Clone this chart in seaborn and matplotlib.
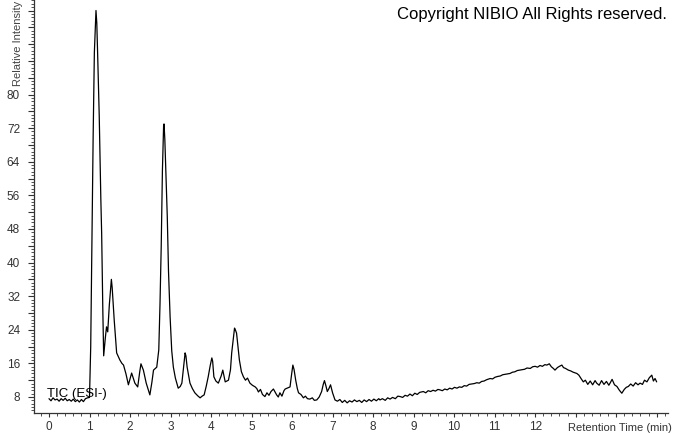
import numpy as np
import pandas as pd
import matplotlib
matplotlib.use("Agg")
import matplotlib.pyplot as plt
import seaborn as sns
from matplotlib.ticker import MultipleLocator, FixedLocator, FixedFormatter

# ---- data (retention time in min, relative intensity) ----
times = [
    0.00, 0.05, 0.10, 0.15, 0.20, 0.25, 0.30, 0.35, 0.40, 0.45, 0.50, 0.55, 0.60, 0.65,
    0.70, 0.75, 0.80, 0.85, 0.90, 0.95, 1.00, 1.03, 1.06, 1.09, 1.12, 1.15, 1.16, 1.18,
    1.20, 1.24, 1.28, 1.30, 1.33, 1.35, 1.39, 1.42, 1.45, 1.49, 1.54, 1.56, 1.61, 1.67,
    1.75, 1.80, 1.84, 1.90, 1.96, 2.04, 2.08, 2.12, 2.19, 2.24, 2.27, 2.33, 2.40, 2.49,
    2.54, 2.58, 2.66, 2.71, 2.74, 2.77, 2.80, 2.83, 2.84, 2.86, 2.89, 2.92, 2.95, 2.99,
    3.03, 3.07, 3.12, 3.19, 3.24, 3.28, 3.32, 3.36, 3.38, 3.41, 3.48, 3.54, 3.60, 3.67,
    3.73, 3.78, 3.83, 3.88, 3.93, 3.98, 4.02, 4.04, 4.07, 4.12, 4.18, 4.25, 4.29, 4.35,
    4.43, 4.48, 4.51, 4.55, 4.58, 4.60, 4.63, 4.67, 4.70, 4.75, 4.80, 4.85, 4.90, 4.96,
    5.02, 5.09, 5.13, 5.17, 5.22, 5.27, 5.33, 5.38, 5.43, 5.48, 5.54, 5.58, 5.62, 5.66,
    5.70, 5.75, 5.80, 5.83, 5.90, 5.95, 5.99, 6.02, 6.05, 6.09, 6.13, 6.16, 6.22, 6.28,
    6.33, 6.38, 6.44, 6.50, 6.55, 6.61, 6.67, 6.73, 6.77, 6.80, 6.84, 6.87, 6.91, 6.95,
    7.00, 7.06, 7.12, 7.18, 7.24, 7.30, 7.36, 7.42, 7.48, 7.54, 7.60, 7.66, 7.72, 7.78,
    7.84, 7.90, 7.96, 8.02, 8.08, 8.14, 8.17, 8.23, 8.30, 8.36, 8.42, 8.48, 8.55, 8.61,
    8.67, 8.73, 8.79, 8.85, 8.91, 8.97, 9.03, 9.09, 9.15, 9.24, 9.30, 9.36, 9.42, 9.48,
    9.54, 9.60, 9.65, 9.71, 9.77, 9.83, 9.89, 9.95, 10.01, 10.07, 10.13, 10.19, 10.25,
    10.31, 10.37, 10.43, 10.50, 10.56, 10.62, 10.68, 10.74, 10.80, 10.89, 10.95, 11.01,
    11.08, 11.14, 11.20, 11.26, 11.32, 11.38, 11.44, 11.50, 11.56, 11.62, 11.68, 11.74,
    11.80, 11.88, 11.94, 12.00, 12.06, 12.12, 12.18, 12.24, 12.29, 12.35, 12.40, 12.45,
    12.49, 12.55, 12.60, 12.66, 12.70, 12.75, 12.82, 12.88, 12.94, 13.03, 13.08, 13.14,
    13.19, 13.24, 13.30, 13.36, 13.42, 13.48, 13.52, 13.58, 13.64, 13.70, 13.76, 13.82,
    13.85, 13.90, 13.96, 14.02, 14.08, 14.14, 14.20, 14.25, 14.30, 14.36, 14.42, 14.48,
    14.54, 14.59, 14.65, 14.70, 14.76, 14.82, 14.88, 14.92, 14.96, 15.00,
]
intensity = [
    7.6, 7.1, 7.8, 7.3, 7.5, 7.0, 7.6, 7.2, 7.7, 7.1, 7.4, 7.0, 7.5, 6.9,
    7.3, 6.8, 7.4, 6.9, 7.6, 7.8, 7.9, 20.0, 45.0, 70.0, 90.0, 98.0, 100.0, 97.0,
    90.0, 75.0, 55.0, 47.0, 28.0, 17.8, 22.0, 24.7, 23.5, 30.0, 36.0, 34.0, 26.3, 18.5,
    16.8, 16.0, 15.6, 13.5, 10.9, 13.7, 12.5, 11.3, 10.4, 14.0, 15.9, 14.4, 11.3, 8.5,
    11.5, 14.4, 15.1, 19.2, 30.0, 43.7, 62.0, 72.8, 73.0, 69.2, 60.0, 50.9, 38.0, 27.0,
    19.0, 15.1, 12.5, 10.1, 10.5, 11.3, 15.0, 18.5, 17.8, 15.1, 11.3, 10.0, 9.0, 8.3,
    7.8, 8.2, 8.5, 10.5, 12.8, 15.5, 17.3, 16.5, 12.8, 11.8, 11.3, 13.0, 14.4, 11.6,
    12.0, 14.5, 18.5, 22.0, 24.4, 24.0, 23.2, 19.5, 16.8, 14.0, 12.8, 12.0, 12.5, 11.3,
    10.8, 10.4, 10.0, 9.2, 9.8, 8.6, 8.1, 9.0, 8.4, 9.3, 9.9, 9.2, 8.5, 8.0,
    9.0, 8.2, 9.5, 9.9, 10.2, 10.4, 13.5, 15.6, 14.5, 12.0, 10.0, 9.0, 8.6, 7.8,
    8.2, 7.6, 7.5, 7.8, 7.2, 7.3, 8.0, 9.3, 11.0, 11.9, 10.5, 9.3, 10.0, 10.9,
    9.0, 7.3, 7.0, 7.4, 6.7, 7.2, 6.6, 7.1, 6.8, 7.3, 6.9, 7.2, 6.7, 7.3,
    6.9, 7.4, 7.0, 7.5, 7.1, 7.6, 7.3, 7.6, 7.2, 7.8, 7.5, 7.9, 7.6, 8.2,
    8.1, 7.9, 8.4, 8.2, 8.7, 8.3, 8.9, 8.6, 9.1, 9.3, 9.0, 9.5, 9.3, 9.6,
    9.4, 9.8, 9.7, 9.5, 9.9, 9.7, 10.1, 9.9, 10.3, 10.1, 10.4, 10.3, 10.7,
    10.6, 11.0, 11.1, 11.2, 11.4, 11.3, 11.7, 11.8, 12.1, 12.4, 12.3, 12.7,
    12.9, 13.0, 13.3, 13.4, 13.5, 13.6, 13.9, 14.0, 14.3, 14.4, 14.5, 14.6,
    14.9, 14.8, 15.2, 15.3, 15.1, 15.5, 15.3, 15.7, 15.6, 15.9, 15.2, 14.8,
    14.4, 15.0, 15.3, 15.6, 15.0, 14.8, 14.4, 14.2, 13.9, 13.6, 13.2, 12.3,
    11.6, 12.0, 11.0, 11.8, 10.9, 11.9, 11.3, 10.8, 11.9, 11.0, 11.7, 10.8,
    11.3, 12.2, 10.9, 10.5, 9.6, 8.9, 9.8, 10.3, 10.5, 11.1, 10.6, 11.4,
    10.9, 11.3, 11.0, 12.0, 11.6, 12.6, 13.2, 11.8, 12.4, 11.6,
]
x_tick_values = list(range(0, 13))
y_tick_values = [8, 16, 24, 32, 40, 48, 56, 64, 72, 80]

df = pd.DataFrame({"time": times, "intensity": intensity})

sns.set_style("ticks")
plt.rcParams["font.family"] = ["Liberation Sans", "DejaVu Sans"]

fig = plt.figure(figsize=(6.74, 4.34), dpi=100)
ax = fig.add_axes([34 / 674, 21 / 434, (668 - 34) / 674, (434 - 21) / 434])

sns.lineplot(data=df, x="time", y="intensity", ax=ax, color="black",
             linewidth=0.9, estimator=None, sort=False)

ax.set_xlim(-0.37, 15.28)
ax.set_ylim(4.19, 102.5)

ax.xaxis.set_major_locator(FixedLocator(list(range(0, 16))))
ax.xaxis.set_major_formatter(FixedFormatter([str(v) if v in x_tick_values else "" for v in range(0, 16)]))
ax.xaxis.set_minor_locator(MultipleLocator(0.2))

y_major = list(range(8, 101, 4))
ax.yaxis.set_major_locator(FixedLocator(y_major))
ax.yaxis.set_major_formatter(FixedFormatter([str(v) if v in y_tick_values else "" for v in y_major]))
ax.yaxis.set_minor_locator(MultipleLocator(0.8))

ax.tick_params(axis="y", which="major", length=4, width=0.8, color="#333333",
               labelsize=8.5, labelcolor="#333333", direction="out", pad=6)
ax.tick_params(axis="x", which="major", length=3, width=0.8, color="#333333",
               labelsize=8.5, labelcolor="#333333", direction="out", pad=3)
ax.tick_params(axis="both", which="minor", length=2, width=0.6, color="#333333", direction="out")

for s in ["top", "right"]:
    ax.spines[s].set_visible(False)
for s in ["left", "bottom"]:
    ax.spines[s].set_color("#333333")
    ax.spines[s].set_linewidth(0.9)

ax.set_xlabel("")
ax.set_ylabel("")

fig.text(18 / 674, 0.998, "Relative Intensity", rotation=90, ha="center", va="top",
         fontsize=8, color="#444444")
fig.text(672 / 674, 6 / 434, "Retention Time (min)", ha="right", va="center",
         fontsize=8, color="#333333")
fig.text(667 / 674, 1 - 14 / 434, "Copyright NIBIO All Rights reserved.", ha="right",
         va="center", fontsize=12, color="black")
ax.text(0.02, 1 - (394 - 0) / 413, "TIC (ESI-)", transform=ax.transAxes, ha="left",
        va="center", fontsize=9.5, color="black")

fig.savefig("out.png", dpi=100)
